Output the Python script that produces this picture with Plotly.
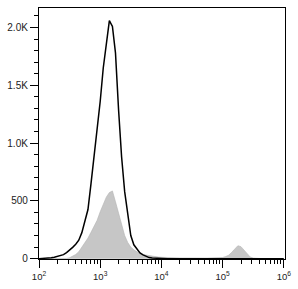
import plotly.graph_objects as go

# log10 bin centres (decades)
log_bins = [2.00, 2.05, 2.10, 2.15, 2.20, 2.25, 2.30, 2.35, 2.40, 2.45,
            2.50, 2.55, 2.60, 2.65, 2.70, 2.75, 2.80, 2.85, 2.90, 2.95,
            3.00, 3.05, 3.10, 3.15, 3.20, 3.25, 3.30, 3.35, 3.40, 3.45,
            3.50, 3.55, 3.60, 3.65, 3.70, 3.75, 3.80, 3.85, 3.90, 3.95,
            4.00, 4.05, 4.10, 4.15, 4.20, 4.25, 4.30, 4.35, 4.40, 4.45,
            4.50, 4.55, 4.60, 4.65, 4.70, 4.75, 4.80, 4.85, 4.90, 4.95,
            5.00, 5.05, 5.10, 5.15, 5.20, 5.25, 5.30, 5.35, 5.40, 5.45,
            5.50, 5.55, 5.60, 5.65, 5.70, 5.75, 5.80, 5.85, 5.90, 5.95, 6.00]

# black outline histogram (stained sample)
stained_counts = [0, 1, 3, 5, 8, 12, 18, 25, 35, 52,
                  72, 98, 125, 160, 225, 318, 425, 650, 875, 1105,
                  1360, 1650, 1880, 2060, 2010, 1780, 1290, 880, 580, 380,
                  200, 120, 80, 50, 33, 20, 9, 5, 3, 2,
                  1, 1, 0, 0, 0, 0, 0, 0, 0, 0,
                  0, 0, 0, 0, 0, 0, 0, 0, 0, 0,
                  0, 0, 0, 0, 0, 0, 0, 0, 0, 0,
                  0, 0, 0, 0, 0, 0, 0, 0, 0, 0, 0]

# grey filled histogram (control)
control_counts = [0, 0, 0, 0, 0, 0, 0, 0, 0, 2,
                  8, 20, 36, 60, 96, 135, 178, 228, 285, 332,
                  405, 462, 532, 572, 586, 492, 398, 298, 200, 140,
                  100, 76, 56, 43, 35, 30, 25, 22, 18, 14,
                  12, 10, 9, 8, 7, 7, 6, 6, 5, 5,
                  5, 5, 5, 5, 5, 5, 5, 6, 6, 7,
                  10, 18, 30, 55, 86, 112, 104, 76, 40, 15,
                  5, 2, 0, 0, 0, 0, 0, 0, 0, 0, 0]

x_tick_vals = [100, 1000, 10000, 100000, 1000000]
x_tick_text = ["10<sup>2</sup>", "10<sup>3</sup>", "10<sup>4</sup>",
               "10<sup>5</sup>", "10<sup>6</sup>"]
x_minor_vals = [200, 300, 400, 500, 600, 700, 800, 900,
                2000, 3000, 4000, 5000, 6000, 7000, 8000, 9000,
                20000, 30000, 40000, 50000, 60000, 70000, 80000, 90000,
                200000, 300000, 400000, 500000, 600000, 700000, 800000, 900000]
y_tick_vals = [0, 500, 1000, 1500, 2000]
y_tick_text = ["0", "500", "1.0K", "1.5K", "2.0K"]

x_vals = [10 ** v for v in log_bins]

fig = go.Figure()
fig.add_trace(go.Scatter(
    x=x_vals, y=control_counts, mode="lines", fill="tozeroy",
    fillcolor="#c6c6c6", line=dict(color="#b4b4b4", width=0.6),
    hoverinfo="skip", showlegend=False))
fig.add_trace(go.Scatter(
    x=x_vals, y=stained_counts, mode="lines",
    line=dict(color="#000000", width=1.5),
    hoverinfo="skip", showlegend=False))

fig.update_layout(
    width=298, height=289,
    margin=dict(l=35, r=8, t=7, b=27),
    paper_bgcolor="white", plot_bgcolor="white",
    font=dict(family="Liberation Sans, Arial, sans-serif", color="#222222"),
    showlegend=False,
)
fig.update_xaxes(
    type="log", range=[2.0, 6.02],
    tickvals=x_tick_vals, ticktext=x_tick_text,
    ticks="outside", ticklen=8, tickwidth=1.3, tickcolor="black",
    tickfont=dict(size=9.5),
    minor=dict(tickmode="array", tickvals=x_minor_vals, ticks="outside",
               ticklen=4, tickwidth=1, tickcolor="black", showgrid=False),
    showgrid=False, zeroline=False,
    showline=True, linecolor="black", linewidth=1.2, mirror=True,
)
fig.update_yaxes(
    range=[-3, 2169],
    tickvals=y_tick_vals, ticktext=y_tick_text,
    ticks="outside", ticklen=8, tickwidth=1.3, tickcolor="black",
    tickfont=dict(size=10),
    minor=dict(dtick=100, ticks="outside", ticklen=4, tickwidth=1, tickcolor="black", showgrid=False),
    showgrid=False, zeroline=False,
    showline=True, linecolor="black", linewidth=1.2, mirror=True,
)

fig.write_html("out.html")
